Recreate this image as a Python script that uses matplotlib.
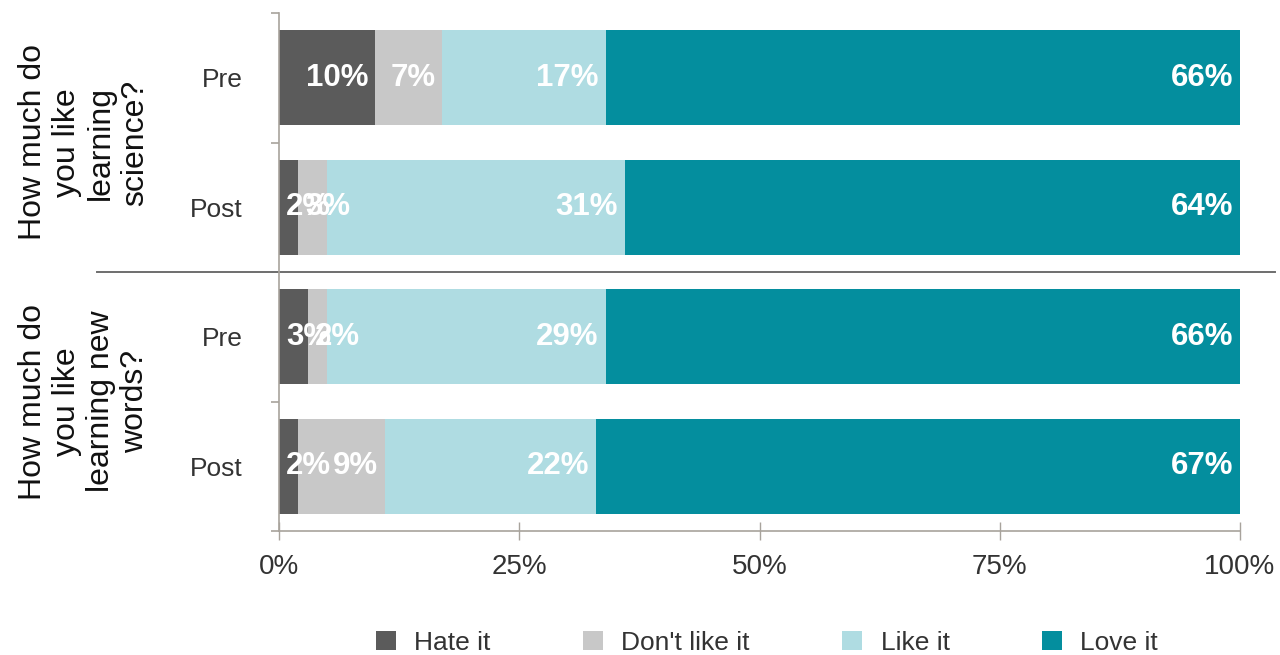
import matplotlib.pyplot as plt
from matplotlib.transforms import blended_transform_factory

# survey answers, percent of respondents
rows = ["Pre", "Post", "Pre", "Post"]
questions = ["How much do\nyou like\nlearning\nscience?",
             "How much do\nyou like\nlearning new\nwords?"]
answers = ["Hate it", "Don't like it", "Like it", "Love it"]
hate = [10, 2, 3, 2]
dont_like = [7, 3, 2, 9]
like = [17, 31, 29, 22]
love = [66, 64, 66, 67]
colors = ["#5b5b5b", "#c8c8c8", "#afdce2", "#048e9e"]
ticks = [0, 25, 50, 75, 100]
tick_labels = ["0%", "25%", "50%", "75%", "100%"]

plt.rcParams["font.family"] = ["Liberation Sans", "DejaVu Sans"]

fig = plt.figure(figsize=(12.8, 6.55), dpi=100)
ax = fig.add_axes([279 / 1280, 1 - 531 / 655, 961 / 1280, 518 / 655])

ypos = list(range(len(rows)))
left = [0] * len(rows)
labels = []
for vals, name, col in zip([hate, dont_like, like, love], answers, colors):
    ax.barh(ypos, vals, left=left, height=0.73, color=col, label=name)
    for y, v, l in zip(ypos, vals, left):
        t = ax.annotate(f"{v}%", xy=(l + v, y), xytext=(-5, 0),
                        textcoords="offset points", ha="right", va="center",
                        color="white", fontsize=22.5, fontweight="bold")
        labels.append((t, l, y))
    left = [a + b for a, b in zip(left, vals)]

ax.set_xlim(0, 100)
ax.set_ylim(3.5, -0.5)

# labels that don't fit in their segment start from the segment's left edge
fig.canvas.draw()
r = fig.canvas.get_renderer()
for t, l, y in labels:
    bb = t.get_window_extent(r)
    start = ax.transData.transform((l, y))[0]
    if bb.x0 < start + 7:
        t.set_horizontalalignment("left")
        t.xy = (l, y)
        t.xyann = (5, 0)

for s in ["top", "right"]:
    ax.spines[s].set_visible(False)
for s in ["left", "bottom"]:
    ax.spines[s].set_color("#a8a39c")
    ax.spines[s].set_linewidth(1.2)

ax.set_xticks(ticks)
ax.set_xticklabels(tick_labels)
ax.tick_params(axis="x", direction="inout", length=13, width=1, color="#a8a39c",
               labelsize=20, labelcolor="#333333", pad=10)

ax.set_yticks(ypos)
ax.set_yticklabels(rows)
ax.tick_params(axis="y", length=0, labelsize=19, labelcolor="#333333", pad=26)
ax.set_yticks([-0.5, 0.5, 1.5, 2.5, 3.5], minor=True)
ax.tick_params(axis="y", which="minor", length=6, width=1.2, color="#a8a39c")

# group divider and question labels
tr = blended_transform_factory(fig.transFigure, ax.transData)
ax.plot([97 / 1280, 1275 / 1280], [1.5, 1.5], transform=tr, color="#6e6e6e",
        lw=1.4, clip_on=False)
for q, y in zip(questions, [0.5, 2.5]):
    fig.text(84 / 1280, y, q, transform=tr, rotation=90, ha="center", va="center",
             multialignment="center", fontsize=23, color="#111111", linespacing=1.18)

leg = fig.legend(loc="center", bbox_to_anchor=(767 / 1280, 1 - 643 / 655), ncol=4,
                 frameon=False, fontsize=19, handlelength=0.75, handleheight=0.75,
                 handletextpad=0.7, columnspacing=3.5)
for txt in leg.get_texts():
    txt.set_color("#333333")

fig.savefig("out.png", dpi=100, facecolor="white")
